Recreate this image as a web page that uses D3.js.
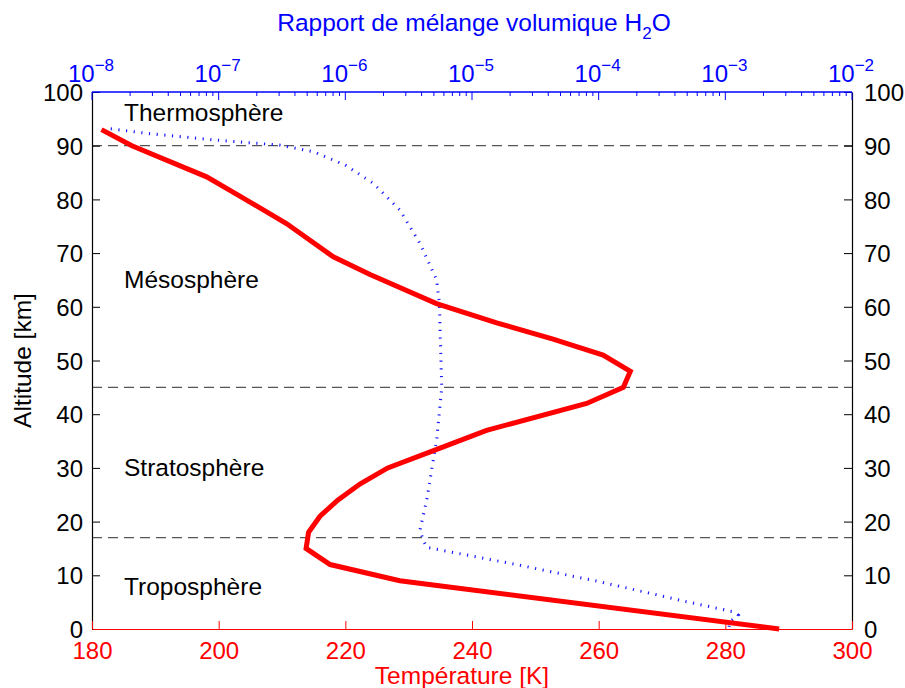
<!DOCTYPE html>
<html><head><meta charset="utf-8">
<script src="https://cdn.jsdelivr.net/npm/d3@7"></script>
<style>body{margin:0;background:#fff}svg{display:block}text{font-family:"Liberation Sans",Arial,sans-serif}</style>
</head><body>
<svg id="c" width="905" height="688"></svg>
<script>
// Temperature profile
const tempAlt = [0, 9, 12, 15, 18, 21, 24, 27, 30, 33, 37, 42, 45, 48, 51, 54, 57, 60.6, 66, 69.3, 75.5, 81, 84.2, 90, 93];
const tempK   = [288.5, 228.6, 217.6, 213.8, 214.2, 216, 218.8, 222.3, 226.7, 233.4, 242.3, 258.1, 263.9, 265, 260.7, 252.8, 243.9, 234.4, 223.9, 218.1, 210.7, 202.8, 198.1, 186.3, 181.5];
// H2O volume mixing ratio profile
const h2oAlt = [0.4, 1.4, 2.6, 3.2, 5.1, 8.8, 12, 15.2, 16.6, 18.4, 24, 31.5, 35.2, 45, 60.7, 65, 71.8, 78, 83, 86.4, 88.9, 90.1, 91.1, 92.3, 93.2];
const h2oVmr = [1.07e-3, 1.09e-3, 1.26e-3, 1.16e-3, 4.9e-4, 1.02e-4, 2.24e-5, 4.39e-6, 4.12e-6, 3.88e-6, 4.39e-6, 4.95e-6, 5.26e-6, 5.77e-6, 5.52e-6, 5.26e-6, 3.88e-6, 2.7e-6, 1.66e-6, 1.0e-6, 5.56e-7, 3.05e-7, 9.0e-8, 2.7e-8, 1.35e-8];
// Layer boundaries and labels
const boundaries = [17, 45, 90];
const layerNames = ["Troposphère", "Stratosphère", "Mésosphère", "Thermosphère"];
const layerAlt = [6.4, 28.5, 63.5, 94.6];
const altTicks = d3.range(0, 101, 10);
const tempTicks = d3.range(180, 301, 20);
const vmrExp = [-8, -7, -6, -5, -4, -3, -2];

const L = 92, R = 852, T = 92, B = 629;
const svg = d3.select("#c");
const y = d3.scaleLinear().domain([0, 100]).range([B, T]);
const xT = d3.scaleLinear().domain([180, 300]).range([L, R]);
const xV = d3.scaleLog().domain([1e-8, 1e-2]).range([L, R]);

// dashed boundaries
svg.selectAll(".bd").data(boundaries).join("line")
  .attr("x1", L).attr("x2", R).attr("y1", d => y(d)).attr("y2", d => y(d))
  .attr("stroke", "#555").attr("stroke-width", 1.2).attr("stroke-dasharray", "10,6");

// layer labels
svg.selectAll(".ln").data(layerNames).join("text")
  .attr("x", 124).attr("y", (d, i) => y(layerAlt[i]))
  .attr("font-size", 24.5).attr("fill", "#000").text(d => d);

// H2O dotted line
const h2oLine = d3.line().x(d => xV(d[1])).y(d => y(d[0]));
svg.append("path").datum(h2oAlt.map((a, i) => [a, h2oVmr[i]]))
  .attr("d", h2oLine).attr("fill", "none").attr("stroke", "#1a1aff")
  .attr("stroke-width", 3).attr("stroke-dasharray", "1.2,6.5");

// Temperature line
const tLine = d3.line().x(d => xT(d[1])).y(d => y(d[0]));
svg.append("path").datum(tempAlt.map((a, i) => [a, tempK[i]]))
  .attr("d", tLine).attr("fill", "none").attr("stroke", "#ff0000")
  .attr("stroke-width", 5).attr("stroke-linejoin", "miter");

// Left / right axes
const left = svg.append("g").attr("transform", `translate(${L},0)`)
  .call(d3.axisLeft(y).tickValues(altTicks).tickSizeInner(-8).tickSizeOuter(0).tickPadding(9));
const right = svg.append("g").attr("transform", `translate(${R},0)`)
  .call(d3.axisRight(y).tickValues(altTicks).tickSizeInner(-8).tickSizeOuter(0).tickPadding(12));
[left, right].forEach(g => {
  g.select(".domain").attr("stroke", "#000").attr("stroke-width", 1.2);
  g.selectAll(".tick line").attr("stroke", "#000");
  g.selectAll(".tick text").attr("font-size", 24).attr("fill", "#000")
    .attr("font-family", '"Liberation Sans",Arial,sans-serif').attr("dy", "0.36em");
});

// Bottom axis
const bottom = svg.append("g").attr("transform", `translate(0,${B})`)
  .call(d3.axisBottom(xT).tickValues(tempTicks).tickFormat(d3.format("d")).tickSizeInner(-8).tickSizeOuter(0).tickPadding(13));
bottom.select(".domain").attr("stroke", "#ff0000").attr("stroke-width", 1.2);
bottom.selectAll(".tick line").attr("stroke", "#ff0000");
bottom.selectAll(".tick text").attr("font-size", 24).attr("fill", "#ff0000")
  .attr("font-family", '"Liberation Sans",Arial,sans-serif');

// Top axis (log)
const minor = [];
vmrExp.slice(0, -1).forEach(e => { for (let k = 2; k <= 9; k++) minor.push(k * Math.pow(10, e)); });
const topG = svg.append("g");
topG.selectAll(".mt").data(minor).join("line")
  .attr("x1", d => xV(d)).attr("x2", d => xV(d)).attr("y1", T).attr("y2", T + 4)
  .attr("stroke", "#0000ff").attr("stroke-width", 1);
topG.selectAll(".Mt").data(vmrExp).join("line")
  .attr("x1", d => xV(Math.pow(10, d))).attr("x2", d => xV(Math.pow(10, d))).attr("y1", T).attr("y2", T + 8)
  .attr("stroke", "#0000ff").attr("stroke-width", 1);
topG.append("line").attr("x1", L).attr("x2", R).attr("y1", T).attr("y2", T)
  .attr("stroke", "#0000ff").attr("stroke-width", 1.4);
const tl = topG.selectAll(".tl").data(vmrExp).join("text")
  .attr("x", d => xV(Math.pow(10, d)) - 1).attr("y", 82).attr("text-anchor", "middle")
  .attr("fill", "#0000ff").attr("font-size", 24);
tl.append("tspan").text("10");
tl.append("tspan").attr("font-size", 17).attr("dy", -11).text(d => "\u2212" + Math.abs(d));

// Axis titles
svg.append("text").attr("x", 462).attr("y", 684).attr("text-anchor", "middle")
  .attr("fill", "#ff0000").attr("font-size", 24.5).text("Température [K]");
svg.append("text").attr("transform", `translate(31,${(T + B) / 2}) rotate(-90)`).attr("text-anchor", "middle")
  .attr("fill", "#000").attr("font-size", 24.5).text("Altitude [km]");
const tt = svg.append("text").attr("x", 474).attr("y", 31).attr("text-anchor", "middle")
  .attr("fill", "#0000ff").attr("font-size", 24.5);
tt.append("tspan").text("Rapport de mélange volumique H");
tt.append("tspan").attr("font-size", 17).attr("dy", 8).text("2");
tt.append("tspan").attr("dy", -8).text("O");
</script>
</body></html>
